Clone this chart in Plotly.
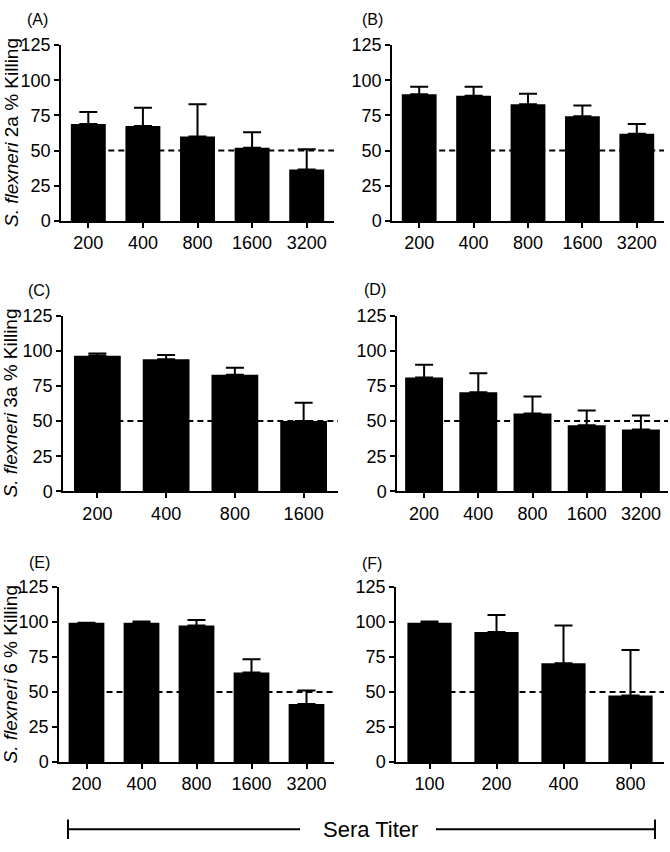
import plotly.graph_objects as go

# ---- data ----
titers_A = ["200", "400", "800", "1600", "3200"]
mean_A = [69, 67.5, 60, 52, 36.5]
upper_A = [77.5, 80.5, 83, 63, 51]

titers_B = ["200", "400", "800", "1600", "3200"]
mean_B = [90, 89, 83, 74.5, 62]
upper_B = [95.5, 95.5, 90.5, 82, 69]

titers_C = ["200", "400", "800", "1600"]
mean_C = [96.5, 94, 83, 50]
upper_C = [98, 97, 88, 63]

titers_D = ["200", "400", "800", "1600", "3200"]
mean_D = [81, 70.5, 55.5, 47, 44]
upper_D = [90, 84, 67.5, 57.5, 54]

titers_E = ["200", "400", "800", "1600", "3200"]
mean_E = [99.5, 99.5, 97.5, 64, 41.5]
upper_E = [99.5, 100.5, 101.5, 73.5, 51]

titers_F = ["100", "200", "400", "800"]
mean_F = [99.5, 93, 70.5, 47.5]
upper_F = [100.5, 105, 97.5, 80]

panel_letters = ["(A)", "(B)", "(C)", "(D)", "(E)", "(F)"]
row_titles = ["<i>S. flexneri</i> 2a % Killing",
              "<i>S. flexneri</i> 3a % Killing",
              "<i>S. flexneri</i> 6 % Killing"]
y_ticks = [0, 25, 50, 75, 100, 125]
threshold = 50
bottom_label = "Sera Titer"

W, H = 670, 852
FONT = "Liberation Sans, Arial, Helvetica, sans-serif"


def px_x(x):
    return x / W


def px_y(y):
    return 1 - y / H


# panel geometry in pixels: (x_left, x_right, y_top, y_bottom)
geom = [
    (61, 334, 36, 216),
    (392, 664, 36, 216),
    (63, 338, 313, 493),
    (397, 668, 313, 493),
    (59, 334, 591, 770),
    (396, 664, 591, 770),
]
bar_widths = [0.64, 0.64, 0.68, 0.70, 0.65, 0.66]
panels = [
    (titers_A, mean_A, upper_A),
    (titers_B, mean_B, upper_B),
    (titers_C, mean_C, upper_C),
    (titers_D, mean_D, upper_D),
    (titers_E, mean_E, upper_E),
    (titers_F, mean_F, upper_F),
]
letter_pos = [(37, 10), (372, 10), (39, 287), (375, 286), (39, 566), (372, 567)]

fig = go.Figure()
layout = dict(
    width=W, height=H,
    margin=dict(l=0, r=0, t=0, b=0),
    paper_bgcolor="white", plot_bgcolor="white",
    showlegend=False,
    font=dict(family=FONT, color="black", size=17),
)
shapes = []
annotations = []

for i, ((cats, means, uppers), (xl, xr, yt, yb)) in enumerate(zip(panels, geom)):
    n = i + 1
    xa = "x" if n == 1 else f"x{n}"
    ya = "y" if n == 1 else f"y{n}"
    errs = [u - m for u, m in zip(uppers, means)]
    fig.add_trace(go.Bar(
        x=cats, y=means, xaxis=xa, yaxis=ya,
        width=bar_widths[i],
        marker=dict(color="black", line=dict(width=0)),
        error_y=dict(type="data", symmetric=False, array=errs,
                     arrayminus=[0] * len(errs),
                     color="black", thickness=2, width=9),
    ))
    xkey = "xaxis" if n == 1 else f"xaxis{n}"
    ykey = "yaxis" if n == 1 else f"yaxis{n}"
    layout[xkey] = dict(
        domain=[px_x(xl), px_x(xr)], anchor=ya, type="category",
        range=[-0.5, len(cats) - 0.5],
        showline=True, linecolor="black", linewidth=1.5,
        ticks="outside", ticklen=5, tickwidth=1.5, tickcolor="black",
        showgrid=False, zeroline=False,
        tickfont=dict(size=18, family=FONT, color="black"),
        fixedrange=True,
    )
    layout[ykey] = dict(
        domain=[px_y(yb), px_y(yt)], anchor=xa,
        range=[0, 125], tickvals=y_ticks,
        showline=True, linecolor="black", linewidth=1.5,
        ticks="outside", ticklen=5, tickwidth=1.5, tickcolor="black",
        showgrid=False, zeroline=False,
        tickfont=dict(size=18, family=FONT, color="black"),
        fixedrange=True,
    )
    shapes.append(dict(
        type="line", xref=xa, yref=ya, layer="below",
        x0=0, x1=len(cats) - 0.5, y0=threshold, y1=threshold,
        line=dict(color="black", width=2, dash="6px,4px"),
    ))
    lx, ly = letter_pos[i]
    annotations.append(dict(
        text=panel_letters[i], xref="paper", yref="paper",
        x=px_x(lx), y=px_y(ly), showarrow=False,
        xanchor="center", yanchor="middle",
        font=dict(size=16, family=FONT, color="black"),
    ))
    if i % 2 == 0:
        annotations.append(dict(
            text=row_titles[i // 2], xref="paper", yref="paper",
            x=px_x(11), y=px_y((yt + yb) / 2), textangle=-90,
            showarrow=False, xanchor="center", yanchor="middle",
            font=dict(size=19, family=FONT, color="black"),
        ))

# bottom bracket "Sera Titer"
by = 839
for (x0, x1) in [(68, 300), (436, 655)]:
    shapes.append(dict(type="line", xref="paper", yref="paper",
                       x0=px_x(x0), x1=px_x(x1), y0=px_y(by), y1=px_y(by),
                       line=dict(color="black", width=2)))
for xc in (68, 655):
    shapes.append(dict(type="line", xref="paper", yref="paper",
                       x0=px_x(xc), x1=px_x(xc), y0=px_y(829), y1=px_y(849),
                       line=dict(color="black", width=2)))
annotations.append(dict(
    text=bottom_label, xref="paper", yref="paper",
    x=px_x(370), y=px_y(839), showarrow=False,
    xanchor="center", yanchor="middle",
    font=dict(size=22, family=FONT, color="black"),
))

layout["shapes"] = shapes
layout["annotations"] = annotations
fig.update_layout(**layout)
fig.write_html(
    "out.html",
    config={"displayModeBar": False},
    post_script="document.body.style.margin='0';document.body.style.padding='0';"
                "document.body.style.overflow='hidden';"
                "document.documentElement.style.overflow='hidden';",
)
